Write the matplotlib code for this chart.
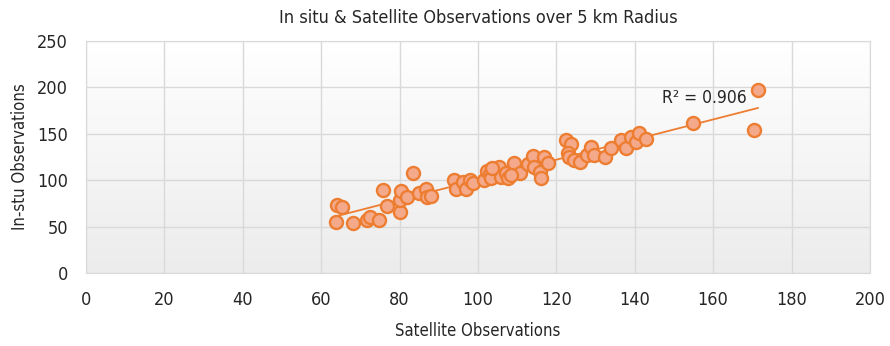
import matplotlib.pyplot as plt
import numpy as np
from matplotlib.colors import LinearSegmentedColormap

# datos (satelite vs in situ)
satellite = [63.8, 64.0, 65.3, 68.1, 71.7, 72.5, 74.7, 75.8, 76.8, 80.1,
             80.0, 80.4, 81.9, 83.4, 85.0, 86.7, 87.0, 88.0,
             93.9, 94.4, 96.2, 96.9, 98.0, 98.7, 101.5, 102.3, 103.0, 103.3,
             105.4, 105.9, 107.1, 107.7, 109.2, 110.7, 112.8, 114.0, 114.3,
             115.8, 116.1, 116.8, 117.9, 103.5, 108.5,
             122.4, 123.7, 123.0, 123.2, 124.5, 126.0, 127.8, 128.8, 129.6,
             132.4, 133.9, 136.5, 137.8, 139.0, 140.3, 141.0, 142.9,
             154.8, 171.4, 170.5]
insitu = [55, 73, 71, 54, 57, 60, 57, 89, 72, 66,
          79, 88, 82, 108, 86, 90, 82, 83,
          100, 90.5, 98, 90.5, 100, 97, 100, 110, 107, 102,
          114, 103, 108, 102, 118.5, 108, 117.5, 126, 114,
          109, 102, 125, 118.5, 113, 106,
          143, 139, 129, 125, 122, 120, 127, 136, 127,
          125, 135, 143, 135, 147, 141, 151, 144,
          162, 197, 154]

x_ticks = [0, 20, 40, 60, 80, 100, 120, 140, 160, 180, 200]
y_ticks = [0, 50, 100, 150, 200, 250]

plt.rcParams['font.family'] = ['DejaVu Sans']
plt.rcParams['font.stretch'] = 'condensed'

fig = plt.figure(figsize=(8.9, 3.46), dpi=100)
ax = fig.add_axes([0.0966, 0.211, 0.8809, 0.6705])

# fondo con degradado (blanco arriba, gris abajo)
cm = LinearSegmentedColormap.from_list('fondo', ['#ECECEC', '#FFFFFF'])
grad = np.linspace(0, 1, 256).reshape(-1, 1)
ax.imshow(grad, extent=[0, 200, 0, 250], aspect='auto', cmap=cm,
          zorder=0, origin='lower')

# linea de tendencia
x = np.array(satellite)
y = np.array(insitu)
m, b = np.polyfit(x, y, 1)
xl = np.array([x.min(), x.max()])
ax.plot(xl, m * xl + b, color='#ED7D31', lw=1.3, zorder=3)

ax.scatter(x, y, s=88, facecolor='#F4A98A', edgecolor='#ED7D31',
           linewidth=1.7, zorder=4)

ax.text(147, 189, 'R² = 0.906', fontsize=12.5, ha='left', va='center',
        color='#262626', zorder=5)

ax.set_xlim(0, 200)
ax.set_ylim(0, 250)
ax.set_xticks(x_ticks)
ax.set_yticks(y_ticks)
ax.grid(True, color='#D9D9D9', lw=1, zorder=1)
ax.set_axisbelow(True)
for s in ax.spines.values():
    s.set_color('#D9D9D9')
ax.tick_params(length=0, labelsize=13, colors='#262626', pad=13)
ax.tick_params(axis='y', pad=13)

ax.set_xlabel('Satellite Observations', fontsize=12, color='#262626', labelpad=9)
ax.set_ylabel('In-stu Observations', fontsize=12, color='#262626', labelpad=6)
ax.set_title('In situ & Satellite Observations over 5 km Radius', fontsize=13,
             color='#262626', pad=13)

plt.savefig('out.png', dpi=100)
